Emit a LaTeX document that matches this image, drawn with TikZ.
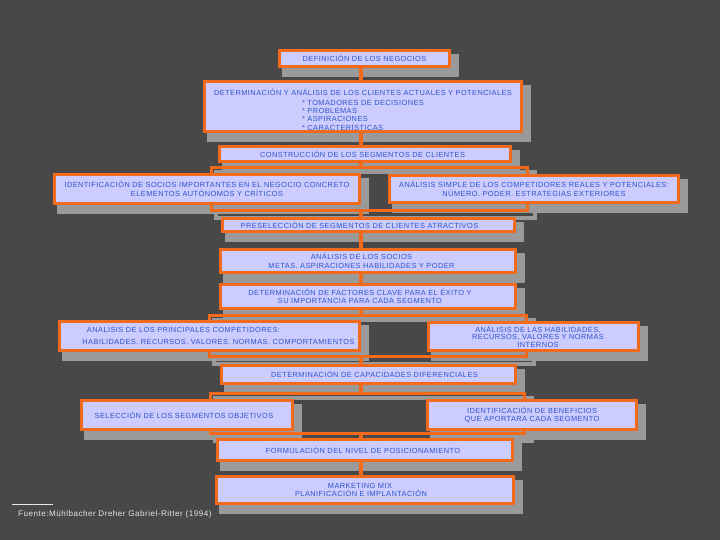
\documentclass[tikz,border=0pt]{standalone}
\usepackage{fontspec}
\setmainfont{Liberation Sans}
\newfontfamily\segfont[LetterSpace=6]{Liberation Sans}
\usetikzlibrary{positioning}
\definecolor{SegBg}{HTML}{484848}
\definecolor{SegOrange}{HTML}{F26A1B}
\definecolor{SegLilac}{HTML}{CCCCFF}
\definecolor{SegBlue}{HTML}{2F55C8}
\definecolor{SegShade}{HTML}{9A9A9A}
\definecolor{SegNote}{HTML}{E6E6E6}
\pgfdeclarelayer{segbg}
\pgfdeclarelayer{segshade}
\pgfsetlayers{segbg,segshade,main}
\tikzset{
  seg box/.style={
    draw=SegOrange,
    fill=SegLilac,
    text=SegBlue,
    line width=3.4pt,
    inner sep=0pt,
    align=center,
    font=\segfont\fontsize{7.4}{8.6}\selectfont
  },
  seg bracket/.style={
    draw=SegOrange,
    line width=3.4pt,
    inner sep=0pt
  },
  seg shade/.style={draw=SegShade,fill=SegShade,line width=3.4pt},
  seg shade frame/.style={draw=SegShade,line width=3.4pt},
  seg link/.style={draw=SegOrange,line width=3.4pt},
  seg note/.style={
    text=SegNote,
    inner sep=0pt,
    anchor=west,
    font=\segfont\fontsize{8.1}{9}\selectfont
  }
}

\begin{document}
\begin{tikzpicture}[x=1pt,y=-1pt]
  \begin{pgfonlayer}{segbg}
    \fill[SegBg] (0,0) rectangle (720,540);
  \end{pgfonlayer}
  \useasboundingbox (0,0) rectangle (720,540);
  \coordinate (spine) at (361,0);

  % central column and side boxes
  \node[seg box,minimum width=169.6pt,minimum height=15.6pt] (def) at (364.5,58.5) {DEFINICIÓN DE LOS NEGOCIOS};
  \node[seg box,minimum width=316.6pt,minimum height=49.6pt] (clientes) at (363,106.5) {%
    \raisebox{-4pt}[\height][\depth]{\renewcommand\arraystretch{0.92}%
    \begin{tabular}{@{}c@{}}DETERMINACIÓN Y ANÁLISIS DE LOS CLIENTES ACTUALES Y POTENCIALES\\[2.5pt]
    \begin{tabular}{@{}l@{}}{*} TOMADORES DE DECISIONES\\{*} PROBLEMAS\\{*} ASPIRACIONES\\{*} CARACTERÍSTICAS\end{tabular}\end{tabular}}};
  \node[seg box,minimum width=290.6pt,minimum height=14.6pt] (construccion) at (365,154) {\hspace*{-5pt}CONSTRUCCIÓN DE LOS SEGMENTOS DE CLIENTES};
  \node[seg bracket,minimum width=315.6pt,minimum height=42.6pt] (br1) at (369.5,189) {};
  \node[seg box,minimum width=304.6pt,minimum height=28.6pt] (idsocios) at (207,189) {IDENTIFICACIÓN DE SOCIOS IMPORTANTES EN EL NEGOCIO CONCRETO\\ELEMENTOS AUTÓNOMOS Y CRÍTICOS};
  \node[seg box,minimum width=288.6pt,minimum height=26.6pt] (anacomp) at (534,189) {ANÁLISIS SIMPLE DE LOS COMPETIDORES REALES Y POTENCIALES:\\NÚMERO. PODER. ESTRATEGIAS EXTERIORES};
  \node[seg box,minimum width=291.6pt,minimum height=12.6pt] (presel) at (368.5,225) {\hspace*{-18pt}PRESELECCIÓN DE SEGMENTOS DE CLIENTES ATRACTIVOS};
  \node[seg box,minimum width=294.6pt,minimum height=22.6pt] (socios) at (368,261) {\hspace*{-13pt}ANÁLISIS DE LOS SOCIOS\\\hspace*{-13pt}METAS. ASPIRACIONES HABILIDADES Y PODER};
  \node[seg box,minimum width=294.6pt,minimum height=23.6pt] (factores) at (368,296.5) {\hspace*{-16pt}DETERMINACIÓN DE FACTORES CLAVE PARA EL ÉXITO Y\\[-1pt]\hspace*{-16pt}SU IMPORTANCIA PARA CADA SEGMENTO};
  \node[seg bracket,minimum width=316.6pt,minimum height=40.6pt] (br2) at (368,336) {};
  \node[seg box,align=left,minimum width=299.6pt,minimum height=28.6pt] (princomp) at (209.5,336) {\hspace*{22.5pt}ANALISIS DE LOS PRINCIPALES COMPETIDORES:\\[4pt]\hspace*{18pt}HABILIDADES. RECURSOS. VALORES. NORMAS. COMPORTAMIENTOS};
  \node[seg box,minimum width=209.6pt,minimum height=27.6pt] (habil) at (533.5,336.5) {\hspace*{9pt}ANÁLISIS DE LAS HABILIDADES,\\[-1pt]\hspace*{9pt}RECURSOS, VALORES Y NORMAS\\[-1pt]\hspace*{9pt}INTERNOS};
  \node[seg box,minimum width=293.6pt,minimum height=17.6pt] (capac) at (368.5,374.5) {\hspace*{12pt}DETERMINACIÓN DE CAPACIDADES DIFERENCIALES};
  \node[seg bracket,minimum width=313.6pt,minimum height=39.6pt] (br3) at (367.5,413.5) {};
  \node[seg box,minimum width=210.6pt,minimum height=28.6pt] (objetivos) at (187,415) {\hspace*{-6pt}SELECCIÓN DE LOS SEGMENTOS OBJETIVOS};
  \node[seg box,minimum width=208.6pt,minimum height=28.6pt] (beneficios) at (532,415) {IDENTIFICACIÓN DE BENEFICIOS\\QUE APORTARA CADA SEGMENTO};
  \node[seg box,minimum width=294.6pt,minimum height=20.6pt] (posic) at (365,450) {\hspace*{-4pt}FORMULACIÓN DEL NIVEL DE POSICIONAMIENTO};
  \node[seg box,minimum width=296.6pt,minimum height=26.6pt] (mix) at (365,490) {\hspace*{-10pt}MARKETING MIX\\\hspace*{-8pt}PLANIFICACIÓN E IMPLANTACIÓN};

  % shadows behind everything
  \begin{pgfonlayer}{segshade}
    \foreach \n in {def,clientes,construccion,idsocios,anacomp,presel,socios,factores,princomp,habil,capac,objetivos,beneficios,posic,mix}
      \draw[seg shade] ([shift={(6,7)}]\n.north west) rectangle ([shift={(6,7)}]\n.south east);
    \foreach \n in {br1,br2,br3}
      \draw[seg shade frame] ([shift={(6,6)}]\n.north west) rectangle ([shift={(6,6)}]\n.south east);
  \end{pgfonlayer}

  % links along the spine
  \draw[seg link] (def.south -| spine) -- (clientes.north -| spine);
  \draw[seg link] (clientes.south -| spine) -- (construccion.north -| spine);
  \draw[seg link] (construccion.south -| spine) -- (br1.north -| spine);
  \draw[seg link] (br1.south -| spine) -- (presel.north -| spine);
  \draw[seg link] (presel.south -| spine) -- (socios.north -| spine);
  \draw[seg link] (socios.south -| spine) -- (factores.north -| spine);
  \draw[seg link] (factores.south -| spine) -- (br2.north -| spine);
  \draw[seg link] (br2.south -| spine) -- (capac.north -| spine);
  \draw[seg link] (capac.south -| spine) -- (br3.north -| spine);
  \draw[seg link] (br3.south -| spine) -- (posic.north -| spine);
  \draw[seg link] (posic.south -| spine) -- (mix.north -| spine);

  % source
  \draw[SegNote,line width=0.8pt] (12,504) -- (53,504);
  \node[seg note] (fuente) at (18,514) {Fuente:Mühlbacher Dreher Gabriel-Ritter (1994)};
\end{tikzpicture}
\end{document}
